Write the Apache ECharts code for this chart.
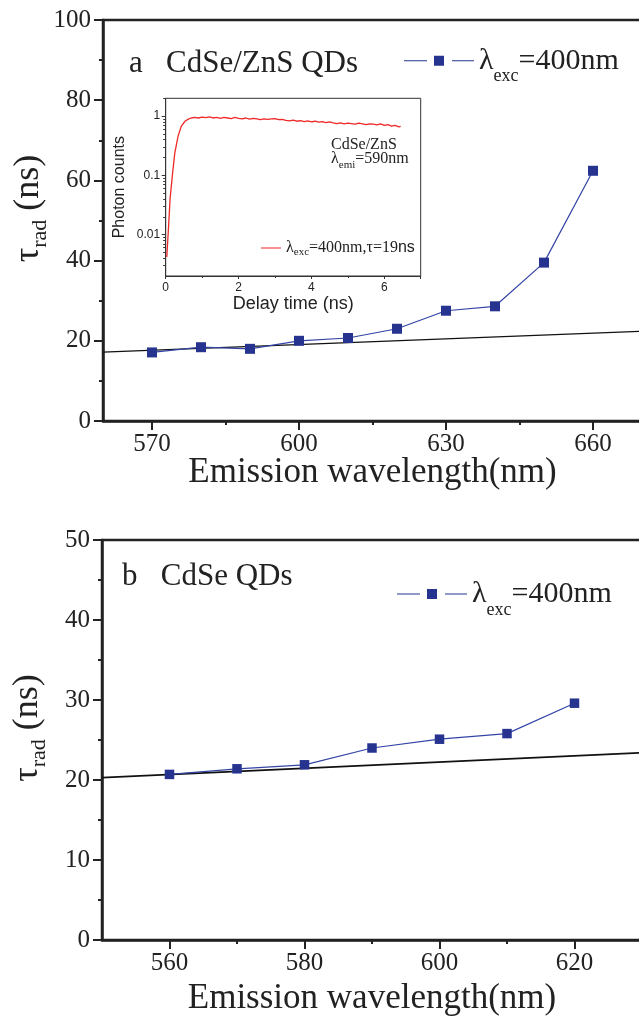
<!DOCTYPE html>
<html>
<head>
<meta charset="utf-8">
<script src="https://cdn.jsdelivr.net/npm/echarts@6/dist/echarts.min.js"></script>
<style>
  html, body { margin: 0; padding: 0; background: #fff; }
  #chart { width: 639px; height: 1019px; }
</style>
</head>
<body>
<div id="chart"></div>
<script>
// panel a: CdSe/ZnS QDs
var wavelengthsA = [570, 580, 590, 600, 610, 620, 630, 640, 650, 660];
var tauA = [17.1, 18.4, 18.0, 20.0, 20.7, 23.0, 27.5, 28.6, 39.5, 62.4];
var fitAx = [560, 670];
var fitAy = [17.2, 22.4];
var ticksAMajor = [570, 600, 630, 660];
var ticksAMinor = [585, 615, 645];

// panel b: CdSe QDs
var wavelengthsB = [560, 570, 580, 590, 600, 610, 620];
var tauB = [20.7, 21.4, 21.9, 24.0, 25.1, 25.8, 29.6];
var fitBx = [550, 630];
var fitBy = [20.3, 23.4];
var ticksBMajor = [560, 580, 600, 620];
var ticksBMinor = [570, 590, 610];

// inset: decay curve
var decayT = [0.03, 0.075, 0.12, 0.19, 0.25, 0.34, 0.43, 0.53, 0.62, 0.7,
  0.8, 0.9, 1.0, 1.1, 1.2, 1.3, 1.4, 1.5, 1.6, 1.7, 1.8, 1.9, 2.0,
  2.1, 2.2, 2.3, 2.4, 2.5, 2.6, 2.7, 2.8, 2.9, 3.0, 3.1, 3.2, 3.3,
  3.4, 3.5, 3.6, 3.7, 3.8, 3.9, 4.0, 4.1, 4.2, 4.3, 4.4, 4.5, 4.6,
  4.7, 4.8, 4.9, 5.0, 5.1, 5.2, 5.3, 5.4, 5.5, 5.6, 5.7, 5.8, 5.9,
  6.0, 6.1, 6.2, 6.3, 6.4, 6.45];
var decayCounts = [0.0042, 0.0125, 0.04, 0.11, 0.24, 0.46, 0.68, 0.82, 0.89, 0.93,
  0.95, 0.93, 0.96, 0.94, 0.97, 0.93, 0.95, 0.92, 0.95, 0.93, 0.91, 0.95, 0.92,
  0.9, 0.93, 0.89, 0.92, 0.9, 0.87, 0.9, 0.88, 0.9, 0.91, 0.87, 0.88, 0.85,
  0.83, 0.86, 0.82, 0.84, 0.81, 0.83, 0.8, 0.82, 0.79, 0.81, 0.78, 0.8, 0.77,
  0.75, 0.77, 0.74, 0.76, 0.75, 0.73, 0.76, 0.74, 0.72, 0.74, 0.73, 0.71, 0.74,
  0.7, 0.72, 0.68, 0.7, 0.66, 0.67];
var insetLogMinor = [0.003, 0.004, 0.005, 0.006, 0.007, 0.008, 0.009,
  0.02, 0.03, 0.04, 0.05, 0.06, 0.07, 0.08, 0.09,
  0.2, 0.3, 0.4, 0.5, 0.6, 0.7, 0.8, 0.9, 2];

var SERIF = 'Liberation Serif';
var SANS = 'Liberation Sans';
var INK = '#222';
var BLUE_LINE = '#3344a6';
var BLUE_MARK = '#27348f';
var RED = '#f02828';

function pairs(xs, ys) {
  return xs.map(function (x, i) { return [x, ys[i]]; });
}

var chart = echarts.init(document.getElementById('chart'), null, { renderer: 'canvas' });

function mainXAxis(grid, min, max, major, gap) {
  return {
    gridIndex: grid, type: 'value', position: 'bottom', min: min, max: max,
    axisLine: { show: true, lineStyle: { color: INK, width: 2.5 } },
    axisTick: { show: true, customValues: major, length: 9, lineStyle: { color: INK, width: 2 } },
    axisLabel: { customValues: major, margin: 10.5, fontFamily: SERIF, fontSize: 25, color: INK },
    splitLine: { show: false },
    name: 'Emission wavelength(nm)', nameLocation: 'middle', nameGap: gap, nameMoveOverlap: false,
    nameTextStyle: { fontFamily: SERIF, fontSize: 35, lineHeight: 35, color: INK }
  };
}
function minorXAxis(grid, min, max, minor) {
  return {
    gridIndex: grid, type: 'value', position: 'bottom', min: min, max: max,
    axisLine: { show: false },
    axisTick: { show: true, customValues: minor, length: 4, lineStyle: { color: INK, width: 2 } },
    axisLabel: { show: false },
    splitLine: { show: false }
  };
}
var yNameRich = {
  m: { fontFamily: SERIF, fontSize: 36, lineHeight: 36, color: INK },
  s: { fontFamily: SERIF, fontSize: 22, lineHeight: 22, color: INK, padding: [23, 0, 0, 0] }
};
function mainYAxis(grid, max, interval) {
  return {
    gridIndex: grid, type: 'value', position: 'left', min: 0, max: max, interval: interval,
    axisLine: { show: true, lineStyle: { color: INK, width: 2.5 } },
    axisTick: { show: true, length: 9, lineStyle: { color: INK, width: 2 } },
    minorTick: { show: true, splitNumber: 2, length: 4, lineStyle: { color: INK, width: 2 } },
    axisLabel: { margin: 12, fontFamily: SERIF, fontSize: 25, color: INK },
    splitLine: { show: false },
    name: '{m|τ}{s|rad}{m| (ns)}', nameLocation: 'middle', nameRotate: 90, nameGap: 56,
    nameMoveOverlap: false,
    nameTextStyle: { rich: yNameRich, padding: [0, 0, 0, 24] }
  };
}

var legendRich = {
  m: { fontFamily: SERIF, fontSize: 30, lineHeight: 30, color: INK },
  s: { fontFamily: SERIF, fontSize: 18, lineHeight: 18, color: INK, padding: [32, 0, 0, 0] }
};
var legendIcon = 'path://M0,4.5h23v1h-23zM30,0h10v10h-10zM48,4.5h22v1h-22z';

var option = {
  animation: false,
  backgroundColor: '#fff',
  title: [
    { left: 129, top: 48.6, padding: 0, text: 'a   CdSe/ZnS QDs',
      textStyle: { fontFamily: SERIF, fontSize: 31, lineHeight: 31, fontWeight: 'normal', color: INK } },
    { left: 122, top: 561, padding: 0, text: 'b   CdSe QDs',
      textStyle: { fontFamily: SERIF, fontSize: 31, lineHeight: 31, fontWeight: 'normal', color: INK } },
    { left: 331, top: 136.6, padding: 0, text: 'CdSe/ZnS',
      textStyle: { fontFamily: SERIF, fontSize: 16, lineHeight: 16, fontWeight: 'normal', color: INK } },
    { left: 331, top: 151.1, padding: 0, text: '{m|λ}{s|emi}{m|=590nm}',
      textStyle: { fontWeight: 'normal', rich: {
        m: { fontFamily: SERIF, fontSize: 16, lineHeight: 16, fontWeight: 'normal', color: INK },
        s: { fontFamily: SERIF, fontSize: 11, lineHeight: 11, fontWeight: 'normal', color: INK, padding: [11.4, 0, 0, 0] }
      } } }
  ],
  legend: [
    { data: ['A'], left: 404, top: 35.7, padding: 0, itemWidth: 70, itemHeight: 10, icon: legendIcon,
      formatter: function () { return '{m|λ}{s|exc}{m|=400nm}'; },
      textStyle: { rich: legendRich } },
    { data: ['B'], left: 397, top: 569, padding: 0, itemWidth: 70, itemHeight: 10, icon: legendIcon,
      formatter: function () { return '{m|λ}{s|exc}{m|=400nm}'; },
      textStyle: { rich: legendRich } },
    { data: ['decay'], left: 261, top: 238.2, padding: 0, itemWidth: 20, itemHeight: 1.2,
      icon: 'path://M0,0h20v1h-20z',
      formatter: function () { return '{m|λ}{s|exc}{m|=400nm,τ=19}{n|ns}'; },
      textStyle: { rich: {
        m: { fontFamily: SERIF, fontSize: 16, lineHeight: 16, color: INK },
        s: { fontFamily: SERIF, fontSize: 11, lineHeight: 11, color: INK, padding: [8.6, 0, 0, 0] },
        n: { fontFamily: SANS, fontSize: 16, lineHeight: 16, color: INK }
      } } }
  ],
  grid: [
    { left: 103, top: 20, width: 539, height: 401, show: true, borderColor: INK, borderWidth: 2.5, outerBoundsMode: 'none' },
    { left: 102, top: 540, width: 540, height: 400, show: true, borderColor: INK, borderWidth: 2.5, outerBoundsMode: 'none' },
    { left: 165.7, top: 98.3, width: 255, height: 177.7, show: true, borderColor: '#333', borderWidth: 1, outerBoundsMode: 'none' }
  ],
  xAxis: [
    mainXAxis(0, 560, 670, ticksAMajor, 34.7),
    minorXAxis(0, 560, 670, ticksAMinor),
    mainXAxis(1, 550, 630, ticksBMajor, 41.7),
    minorXAxis(1, 550, 630, ticksBMinor),
    {
      gridIndex: 2, type: 'value', position: 'bottom', min: 0, max: 7, interval: 2,
      axisLine: { show: true, lineStyle: { color: '#333', width: 1 } },
      axisTick: { show: true, length: 3, lineStyle: { color: '#333' } },
      minorTick: { show: true, splitNumber: 2, length: 2, lineStyle: { color: '#333' } },
      axisLabel: { margin: 5.5, fontFamily: SANS, fontSize: 12, color: INK, showMaxLabel: false },
      splitLine: { show: false },
      name: 'Delay time (ns)', nameLocation: 'middle', nameGap: 18.7, nameMoveOverlap: false,
      nameTextStyle: { fontFamily: SANS, fontSize: 18, lineHeight: 18, color: INK }
    }
  ],
  yAxis: [
    mainYAxis(0, 100, 20),
    mainYAxis(1, 50, 10),
    {
      gridIndex: 2, type: 'log', position: 'left', logBase: 10, min: 0.002, max: 2,
      axisLine: { show: true, lineStyle: { color: '#333', width: 1 } },
      axisTick: { show: true, length: 4, lineStyle: { color: '#333' } },
      axisLabel: { margin: 5.5, fontFamily: SANS, fontSize: 12, color: INK,
        showMinLabel: false, showMaxLabel: false,
        formatter: function (v) { return String(parseFloat(Number(v).toPrecision(2))); } },
      splitLine: { show: false },
      name: 'Photon counts', nameLocation: 'middle', nameRotate: 90, nameGap: 37.7, nameMoveOverlap: false,
      nameTextStyle: { fontFamily: SANS, fontSize: 16, lineHeight: 16, color: INK }
    },
    {
      gridIndex: 2, type: 'log', position: 'left', offset: 0, logBase: 10, min: 0.002, max: 2,
      axisLine: { show: false },
      axisTick: { show: true, inside: false, customValues: insetLogMinor, length: 2.5, lineStyle: { color: '#333' } },
      axisLabel: { show: false },
      splitLine: { show: false }
    }
  ],
  series: [
    { name: 'fitA', type: 'line', xAxisIndex: 0, yAxisIndex: 0, data: pairs(fitAx, fitAy),
      symbol: 'none', silent: true, lineStyle: { color: '#111', width: 1.2 }, z: 2 },
    { name: 'A', type: 'line', xAxisIndex: 0, yAxisIndex: 0, data: pairs(wavelengthsA, tauA),
      symbol: 'rect', symbolSize: 10, color: BLUE_MARK,
      lineStyle: { color: BLUE_LINE, width: 1.2 }, itemStyle: { color: BLUE_MARK }, z: 3 },
    { name: 'fitB', type: 'line', xAxisIndex: 2, yAxisIndex: 1, data: pairs(fitBx, fitBy),
      symbol: 'none', silent: true, lineStyle: { color: '#111', width: 1.8 }, z: 2 },
    { name: 'B', type: 'line', xAxisIndex: 2, yAxisIndex: 1, data: pairs(wavelengthsB, tauB),
      symbol: 'rect', symbolSize: 9.5, color: BLUE_MARK,
      lineStyle: { color: BLUE_LINE, width: 1.2 }, itemStyle: { color: BLUE_MARK }, z: 3 },
    { name: 'decay', type: 'line', xAxisIndex: 4, yAxisIndex: 2, data: pairs(decayT, decayCounts),
      symbol: 'none', color: RED, lineStyle: { color: RED, width: 1.3 }, z: 3 }
  ]
};

chart.setOption(option);
window.addEventListener('resize', function () {
  chart.resize();
});
</script>
</body>
</html>
